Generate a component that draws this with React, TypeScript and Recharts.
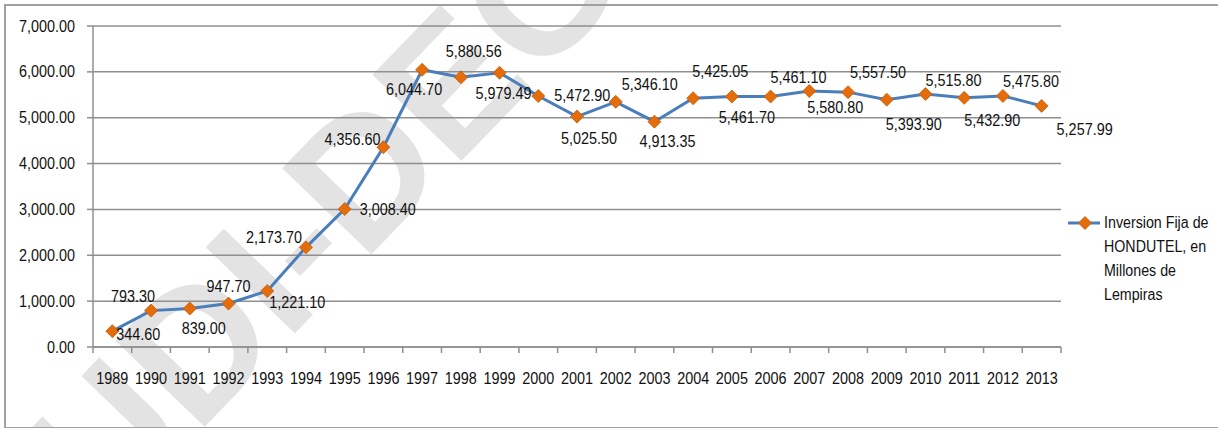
import React from "react";
import { LineChart, Line, XAxis, YAxis, CartesianGrid, LabelList } from "recharts";

const years = [
  "1989", "1990", "1991", "1992", "1993", "1994", "1995", "1996", "1997",
  "1998", "1999", "2000", "2001", "2002", "2003", "2004", "2005", "2006",
  "2007", "2008", "2009", "2010", "2011", "2012", "2013",
];

const inversion = [
  344.6, 793.3, 839.0, 947.7, 1221.1, 2173.7, 3008.4, 4356.6, 6044.7,
  5880.56, 5979.49, 5472.9, 5025.5, 5346.1, 4913.35, 5425.05, 5461.7, 5461.1,
  5580.8, 5557.5, 5393.9, 5515.8, 5432.9, 5475.8, 5257.99,
];

const yTicks = [0, 1000, 2000, 3000, 4000, 5000, 6000, 7000];

const seriesName = "Inversion Fija de HONDUTEL, en Millones de Lempiras";
const legendLines = ["Inversion Fija de", "HONDUTEL, en", "Millones de", "Lempiras"];

// where each value label sits relative to its point (hand placed, as in the original)
const labelOffsets: [number, number][] = [
  [26, 3], [-18, -14], [14, 20], [0, -17], [30, 11], [-32, -10], [43, 0],
  [-31, -8], [-8, 20], [13, -26], [4, 21], [44, -1], [12, 22], [34, -17],
  [13, 20], [27, -27], [15, 21], [28, -19], [26, 16], [30, -20], [27, 25],
  [28, -14], [28, 23], [28, -14], [43, 24],
];

const watermarkHead = "UDI-";
const watermarkTail = "DEGT-UNAH";

const data = years.map((year, i) => ({ year, value: inversion[i] }));

const FONT = "'Liberation Sans', Arial, sans-serif";
const LINE_BLUE = "#4A7EBB";
const MARKER = "#E46C0A";
const GRID = "#8f8f8f";
const TEXT = "#111";

const PLOT_LEFT = 93;
const PLOT_RIGHT = 1061;
const HALF = (PLOT_RIGHT - PLOT_LEFT) / years.length / 2;

const fmt = (v: number) =>
  v.toLocaleString("en-US", { minimumFractionDigits: 2, maximumFractionDigits: 2 });

// the original uses a narrow font; squeeze Liberation Sans to that width
const narrowWidth = (s: string) =>
  [...s].reduce((w, c) => w + (c === "," || c === "." ? 0.278 : 0.556), 0) * 14.4;

const NarrowText = ({ children, ...rest }: any) => (
  <text
    {...rest}
    textLength={narrowWidth(String(children))}
    lengthAdjust="spacingAndGlyphs"
    fill={TEXT}
    fontSize={16}
    fontFamily={FONT}
  >
    {children}
  </text>
);

const Diamond = ({ cx, cy }: any) => {
  if (cx == null || cy == null) return null;
  const r = 6.5;
  return (
    <polygon
      points={`${cx},${cy - r} ${cx + r},${cy} ${cx},${cy + r} ${cx - r},${cy}`}
      fill={MARKER}
      stroke="#c75c08"
      strokeWidth={0.8}
    />
  );
};

const YearTick = ({ x, y, payload, index }: any) => (
  <g>
    <line x1={x - HALF} x2={x - HALF} y1={y} y2={y + 6} stroke={GRID} strokeWidth={1.5} />
    {index === years.length - 1 && (
      <line x1={x + HALF} x2={x + HALF} y1={y} y2={y + 6} stroke={GRID} strokeWidth={1.5} />
    )}
    <NarrowText x={x} y={y + 37} textAnchor="middle">
      {payload.value}
    </NarrowText>
  </g>
);

const ValueTick = ({ x, y, payload }: any) => (
  <NarrowText x={x} y={y} textAnchor="end" dominantBaseline="central">
    {fmt(payload.value)}
  </NarrowText>
);

const ValueLabel = ({ x, y, value, index }: any) => {
  const [dx, dy] = labelOffsets[index] || [0, -15];
  return (
    <NarrowText x={x + dx} y={y + dy} textAnchor="middle" dominantBaseline="central">
      {fmt(value)}
    </NarrowText>
  );
};

const Watermark = () => (
  <svg width={1218} height={428} style={{ position: "absolute", left: 0, top: 0 }}>
    <g
      transform="translate(363,263) rotate(-46)"
      fill="#e3e3e3"
      fontFamily={FONT}
      fontSize={180}
      fontWeight="bold"
    >
      <text x={0} y={0} textAnchor="end">{watermarkHead}</text>
      <text x={0} y={0}>{watermarkTail}</text>
    </g>
  </svg>
);

export default function App() {
  return (
    <div style={{ position: "absolute", left: 0, top: 0, width: 1218, height: 428, background: "#fff", overflow: "hidden" }}>
      <Watermark />
      <div
        style={{
          position: "absolute",
          left: 4,
          top: 4,
          width: 1220,
          height: 421,
          border: "2px solid #a0a0a0",
        }}
      />
      <div style={{ position: "absolute", left: 0, top: 0 }}>
        <LineChart
          width={1218}
          height={428}
          data={data}
          margin={{ top: 26, right: 1218 - PLOT_RIGHT, left: 8, bottom: 51 }}
        >
          <CartesianGrid vertical={false} stroke={GRID} strokeWidth={1.5} />
          <XAxis
            dataKey="year"
            padding={{ left: HALF, right: HALF }}
            axisLine={{ stroke: GRID, strokeWidth: 1.5 }}
            tickLine={false}
            tickSize={0}
            tickMargin={0}
            interval={0}
            height={30}
            tick={<YearTick />}
          />
          <YAxis
            domain={[0, 7000]}
            ticks={yTicks}
            width={85}
            interval={0}
            axisLine={{ stroke: GRID, strokeWidth: 1.5 }}
            tickLine={{ stroke: GRID, strokeWidth: 1.5 }}
            tickSize={6}
            tickMargin={12}
            tick={<ValueTick />}
          />
          <Line
            name={seriesName}
            dataKey="value"
            stroke={LINE_BLUE}
            strokeWidth={3}
            dot={<Diamond />}
            activeDot={false}
            isAnimationActive={false}
          >
            <LabelList dataKey="value" content={<ValueLabel />} />
          </Line>
        </LineChart>
      </div>
      <div style={{ position: "absolute", left: 1066, top: 211, fontFamily: FONT, fontSize: 16, color: TEXT }}>
        <svg width={36} height={24} style={{ position: "absolute", left: 0, top: 0 }}>
          <line x1={2} x2={34} y1={12} y2={12} stroke={LINE_BLUE} strokeWidth={3} />
          <Diamond cx={19} cy={12} />
        </svg>
        <div
          style={{
            position: "absolute",
            left: 38,
            top: 0,
            lineHeight: "24px",
            whiteSpace: "nowrap",
            transform: "scaleX(0.89)",
            transformOrigin: "left center",
          }}
        >
          {legendLines.map((l) => (
            <div key={l}>{l}</div>
          ))}
        </div>
      </div>
    </div>
  );
}
